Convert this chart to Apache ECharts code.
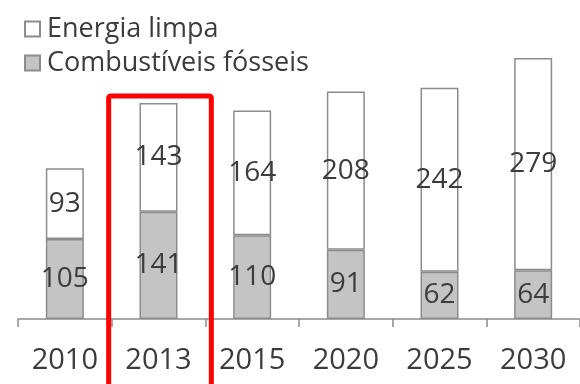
<!DOCTYPE html>
<html>
<head>
<meta charset="utf-8">
<script src="https://cdn.jsdelivr.net/npm/echarts@6/dist/echarts.min.js"></script>
<style>
  html, body { margin: 0; padding: 0; background: #fff; }
  #chart { width: 580px; height: 384px; }
</style>
</head>
<body>
<div id="chart"></div>
<script>
// Annual investment by energy source
const years = ['2010', '2013', '2015', '2020', '2025', '2030'];
const fossilValues = [105, 141, 110, 91, 62, 64];
const cleanValues = [93, 143, 164, 208, 242, 279];
const seriesNames = ['Energia limpa', 'Combustíveis fósseis'];
const highlightYear = '2013';

const FONT = '"Open Sans", "Liberation Sans", sans-serif';
const TEXT = '#3c3c3c';
const EDGE = '#8c8c8c';

const chart = echarts.init(document.getElementById('chart'));

const labelStyle = {
  show: true,
  position: 'inside',
  fontFamily: FONT,
  fontSize: 28,
  color: TEXT
};

chart.setOption({
  animation: false,
  backgroundColor: '#fff',
  legend: {
    orient: 'vertical',
    left: 19,
    top: 9,
    itemWidth: 15,
    itemHeight: 15,
    itemGap: 4,
    icon: 'rect',
    data: seriesNames,
    textStyle: {
      fontFamily: FONT,
      fontSize: 27,
      lineHeight: 30,
      color: TEXT,
      padding: [0, 0, 0, 2]
    }
  },
  grid: {
    left: 18,
    width: 572,
    top: 14.6,
    bottom: 65,
    containLabel: false
  },
  xAxis: {
    type: 'category',
    data: years,
    boundaryGap: true,
    axisLine: { show: true, lineStyle: { color: EDGE, width: 1.5 } },
    axisTick: { show: true, alignWithLabel: false, interval: 0, length: 8, lineStyle: { color: EDGE, width: 1.5 } },
    axisLabel: {
      fontFamily: FONT,
      fontSize: 29,
      color: TEXT,
      margin: 27
    }
  },
  yAxis: {
    type: 'value',
    min: 0,
    max: 400,
    show: false,
    splitLine: { show: false }
  },
  series: [
    {
      name: seriesNames[1],
      type: 'bar',
      stack: 'total',
      barWidth: 38,
      data: fossilValues,
      itemStyle: { color: '#c4c4c4', borderColor: EDGE, borderWidth: 1.5 },
      label: labelStyle
    },
    {
      name: seriesNames[0],
      type: 'bar',
      stack: 'total',
      barWidth: 38,
      data: cleanValues,
      itemStyle: { color: '#ffffff', borderColor: EDGE, borderWidth: 1.5 },
      label: labelStyle
    }
  ]
});

// Red frame around the highlighted year's column
const idx = years.indexOf(highlightYear);
const cx = chart.convertToPixel({ xAxisIndex: 0 }, idx);
const bandW = chart.convertToPixel({ xAxisIndex: 0 }, idx + 1) - cx;
const topPx = chart.convertToPixel({ yAxisIndex: 0 }, fossilValues[idx] + cleanValues[idx]);
chart.setOption({
  graphic: [{
    type: 'rect',
    shape: {
      x: cx - bandW / 2 - 3,
      y: topPx - 7,
      width: bandW + 9,
      height: 300,
      r: 2
    },
    style: { fill: 'none', stroke: '#ff0000', lineWidth: 5 },
    z: 100
  }]
});
</script>
</body>
</html>
